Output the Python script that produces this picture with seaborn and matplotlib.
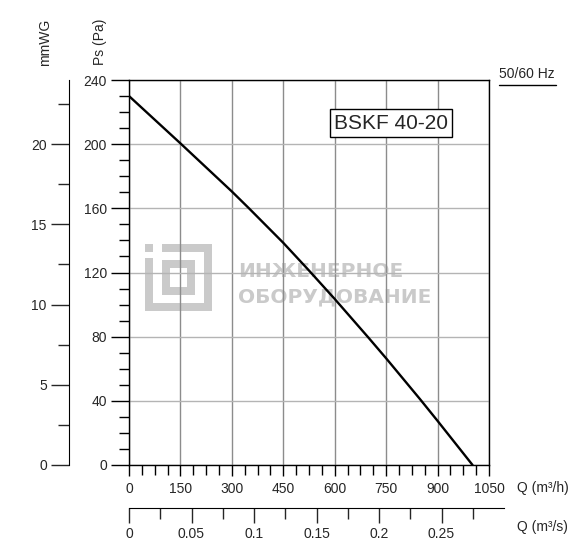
import numpy as np
import pandas as pd
import matplotlib
matplotlib.use("Agg")
import matplotlib.pyplot as plt
from matplotlib.patches import Rectangle
from matplotlib.lines import Line2D
import seaborn as sns

# curve
q_m3h = [0, 150, 300, 350, 450, 523, 600, 698, 750, 849, 900, 1002]
ps_pa = [230, 200.5, 170.5, 160, 138.5, 121.7, 103.5, 79.5, 66.5, 41, 27.5, 0]

q_ticks = [0, 150, 300, 450, 600, 750, 900, 1050]
ps_ticks = [0, 40, 80, 120, 160, 200, 240]
mmwg_ticks = [0, 5, 10, 15, 20]
qs_ticks = [0, 0.05, 0.1, 0.15, 0.2, 0.25]
qs_labels = ["0", "0.05", "0.1", "0.15", "0.2", "0.25"]

model = "BSKF 40-20"
freq = "50/60 Hz"
wm_lines = ["ИНЖЕНЕРНОЕ", "ОБОРУДОВАНИЕ"]

sns.set_style("ticks")
plt.rcParams["font.family"] = ["Liberation Sans", "DejaVu Sans"]
plt.rcParams["font.size"] = 10

W, H = 579, 555
fig = plt.figure(figsize=(W / 100, H / 100), dpi=100)


def box(x0, y0, x1, y1):
    # pixel box -> figure fraction
    return [x0 / W, 1 - y1 / H, (x1 - x0) / W, (y1 - y0) / H]


# watermark behind the chart (axes background is transparent)
wm = "#cacaca"
for x0, y0, x1, y1 in [(145, 244, 153, 252), (145, 258, 153, 311), (145, 303, 212, 311),
                       (204, 244, 212, 311), (162, 244, 212, 252), (162, 260, 195, 295)]:
    fig.add_artist(Rectangle((x0 / W, 1 - y1 / H), (x1 - x0) / W, (y1 - y0) / H,
                             transform=fig.transFigure, facecolor=wm, edgecolor="none", zorder=-2))
fig.add_artist(Rectangle((170 / W, 1 - 287 / H), 17 / W, 19 / H, transform=fig.transFigure,
                         facecolor="white", edgecolor="none", zorder=-1))
fig.text(238 / W, 1 - 276.7 / H, wm_lines[0], ha="left", va="baseline", fontsize=14.5,
         fontweight="bold", family="DejaVu Sans", color=wm, zorder=-1)
fig.text(238 / W, 1 - 302.3 / H, wm_lines[1], ha="left", va="baseline", fontsize=14.5,
         fontweight="bold", family="DejaVu Sans", color=wm, zorder=-1)

# main chart
ax = fig.add_axes(box(129, 80, 489, 465))
ax.patch.set_alpha(0)
df = pd.DataFrame({"Q": q_m3h, "Ps": ps_pa})
sns.lineplot(data=df, x="Q", y="Ps", ax=ax, color="black", linewidth=1.7, zorder=5)
ax.set_xlim(0, 1050)
ax.set_ylim(0, 240)
ax.set_xticks(q_ticks)
ax.set_xticks(np.arange(0, 1051, 37.5), minor=True)
ax.set_yticks(ps_ticks)
ax.set_yticks(np.arange(0, 241, 10), minor=True)
ax.tick_params(axis="x", which="major", length=8, width=1, pad=4, color="black", labelsize=10)
ax.tick_params(axis="x", which="minor", length=7, width=1, color="black")
ax.tick_params(axis="y", which="major", length=13, width=1, pad=3, color="black", labelsize=10)
ax.tick_params(axis="y", which="minor", length=7, width=1, color="black")
ax.grid(True, which="major", axis="x", color="#8c8c8c", linewidth=1)
ax.grid(True, which="major", axis="y", color="#b4b4b4", linewidth=1)
for s in ax.spines.values():
    s.set_color("black")
    s.set_linewidth(1)
ax.set_xlabel("")
ax.set_ylabel("")
ax.text(0.728, 0.888, model, transform=ax.transAxes, ha="center", va="center",
        fontsize=15, zorder=6,
        bbox=dict(boxstyle="square,pad=0.2", facecolor="white", edgecolor="black", linewidth=1))

# mmWG axis on the far left
ax2 = fig.add_axes(box(69, 80, 70, 465))
ax2.set_ylim(0, 24)
ax2.set_xlim(0, 1)
ax2.set_yticks(mmwg_ticks)
ax2.set_yticks(np.arange(0, 24, 2.5), minor=True)
ax2.tick_params(axis="y", which="major", length=13, width=1, pad=3, labelsize=10)
ax2.tick_params(axis="y", which="minor", length=8, width=1)
ax2.set_xticks([])
for k in ["top", "right", "bottom"]:
    ax2.spines[k].set_visible(False)
ax2.spines["left"].set_color("black")
ax2.patch.set_alpha(0)

# m3/s axis below
ax3 = fig.add_axes(box(129, 507, 504, 508))
ax3.set_xlim(0, 0.3)
ax3.set_xticks(qs_ticks)
ax3.set_xticklabels(qs_labels)
ax3.set_xticks(np.arange(0.025, 0.3, 0.05), minor=True)
ax3.tick_params(axis="x", which="major", length=11, width=1, pad=3, labelsize=10)
ax3.tick_params(axis="x", which="minor", length=8, width=1)
ax3.set_yticks([])
for k in ["top", "right", "left"]:
    ax3.spines[k].set_visible(False)
ax3.spines["bottom"].set_color("black")
ax3.patch.set_alpha(0)

# axis titles
fig.text(100 / W, 1 - 42 / H, "Ps (Pa)", rotation=90, ha="center", va="center", fontsize=10)
fig.text(45 / W, 1 - 42 / H, "mmWG", rotation=90, ha="center", va="center", fontsize=10)
fig.text(517 / W, 1 - 488 / H, "Q (m³/h)", ha="left", va="center", fontsize=10)
fig.text(517 / W, 1 - 527 / H, "Q (m³/s)", ha="left", va="center", fontsize=10)
fig.text(527 / W, 1 - 74 / H, freq, ha="center", va="center", fontsize=10)
fig.add_artist(Line2D([499 / W, 556 / W], [1 - 85 / H, 1 - 85 / H], color="black", linewidth=1))

fig.savefig("out.png", dpi=100)
